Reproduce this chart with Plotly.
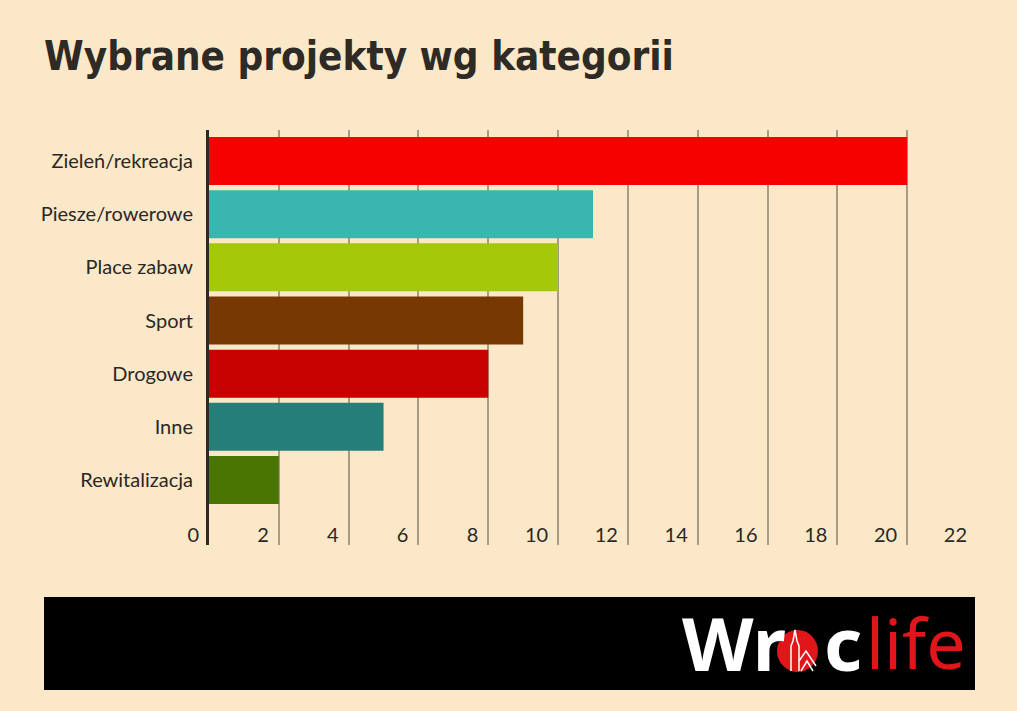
import plotly.graph_objects as go

categories = ["Zieleń/rekreacja", "Piesze/rowerowe", "Place zabaw", "Sport", "Drogowe", "Inne", "Rewitalizacja"]
values = [20, 11, 10, 9, 8, 5, 2]
colors = ["#f70000", "#3ab6ae", "#a3c909", "#783803", "#c70000", "#267e78", "#497503"]
tick_vals = list(range(0, 24, 2))

W, H = 1017, 711
L, R, T, B = 209, 977, 130, 545

def px(x):
    return (x - L) / (R - L)

def py(y):
    return (B - y) / (B - T)

def path(points):
    return "M " + " L ".join(f"{px(a):.5f},{py(b):.5f}" for a, b in points)

bg = "#fbe8c8"
ink = "#2b2724"
fig = go.Figure()
fig.add_trace(go.Bar(
    x=values, y=categories, orientation="h",
    marker=dict(color=colors, line=dict(width=0)),
    hoverinfo="x+y",
))
# invisible companion trace so the label axis (x2) is rendered
fig.add_trace(go.Scatter(
    x=values, y=categories, xaxis="x2", mode="markers",
    marker=dict(opacity=0), hoverinfo="skip", showlegend=False,
))

tower = [(791, 671), (791, 646), (793, 641), (795, 630), (797, 641), (799, 646), (799, 671)]
roof1 = [(799, 661), (806, 651), (816, 666)]
roof2 = [(801, 671), (807, 661), (813, 671)]

fig.update_layout(
    width=W, height=H,
    margin=dict(l=L, r=W - R, t=T, b=H - B),
    paper_bgcolor=bg, plot_bgcolor=bg,
    bargap=0.097,
    showlegend=False,
    font=dict(family="Lato", size=20, color=ink),
    xaxis=dict(range=[0, 22], tickvals=tick_vals, showgrid=True, gridcolor="#a89c84", gridwidth=1.5,
               zeroline=False, showline=False, ticks="", showticklabels=False),
    xaxis2=dict(range=[0, 22], matches="x", overlaying="x", anchor="free", side="bottom",
                position=py(521), tickvals=tick_vals, showgrid=False, zeroline=False, showline=False,
                ticks="", ticklabelposition="outside left", ticklabelshift=-10,
                tickfont=dict(family="Lato", size=20, color=ink)),
    yaxis=dict(categoryorder="array", categoryarray=categories, range=[7.222, -0.583],
               showline=True, linecolor="#2d2a26", linewidth=3, showgrid=False, zeroline=False,
               ticks="", ticklabelstandoff=9,
               tickfont=dict(family="Lato", size=20, color=ink)),
    shapes=[
        dict(type="rect", xref="paper", yref="paper", x0=px(44), x1=px(975), y0=py(690), y1=py(597),
             fillcolor="#000000", line=dict(width=0), layer="above"),
        dict(type="circle", xref="paper", yref="paper", x0=px(777), x1=px(818), y0=py(672), y1=py(630),
             fillcolor="#e0161b", line=dict(width=0), layer="above"),
        dict(type="path", xref="paper", yref="paper", path=path(tower),
             line=dict(color="#ffffff", width=1.5), layer="above"),
        dict(type="path", xref="paper", yref="paper", path=path(roof1),
             line=dict(color="#ffffff", width=1.5), layer="above"),
        dict(type="path", xref="paper", yref="paper", path=path(roof2),
             line=dict(color="#ffffff", width=1.5), layer="above"),
    ],
    annotations=[
        dict(text="<b>Wybrane projekty wg kategorii</b>", xref="paper", yref="paper", x=px(42), y=py(56),
             xanchor="left", yanchor="middle", showarrow=False,
             font=dict(family="DejaVu Sans Condensed", size=40, color="#2e2a26")),
        dict(text="<b>Wr</b>", xref="paper", yref="paper", x=px(680), y=py(642),
             xanchor="left", yanchor="middle", showarrow=False,
             font=dict(family="Noto Sans", size=74, color="#ffffff")),
        dict(text="<b>c</b>", xref="paper", yref="paper", x=px(822), y=py(642),
             xanchor="left", yanchor="middle", showarrow=False,
             font=dict(family="Noto Sans", size=74, color="#ffffff")),
        dict(text="life", xref="paper", yref="paper", x=px(864), y=py(642),
             xanchor="left", yanchor="middle", showarrow=False,
             font=dict(family="Noto Sans", size=70, color="#e0161b")),
    ],
)

fig.write_html("out.html", config={"displayModeBar": False},
               post_script="document.body.style.margin='0';")
